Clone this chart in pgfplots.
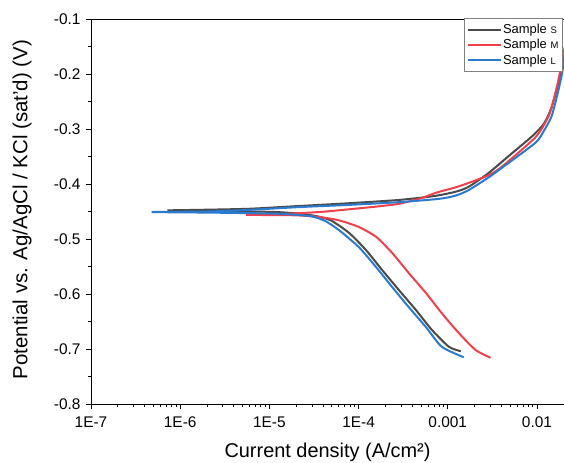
\documentclass[border=0pt]{standalone}
\usepackage{pgfplots}
\pgfplotsset{compat=1.18}
\usepackage{fontspec}
\setmainfont{Liberation Sans}
\definecolor{cS}{HTML}{4A4A4A}
\definecolor{cM}{HTML}{F0404C}
\definecolor{cL}{HTML}{2A7BCF}
\begin{document}
\begin{tikzpicture}
\begin{axis}[
  scale only axis, width=473bp, height=385bp,
  xmode=log, xmin=1e-7, xmax=0.0201, ymin=-0.8, ymax=-0.1,
  xtick={1e-7,1e-6,1e-5,1e-4,1e-3,1e-2},
  xticklabels={1E-7,1E-6,1E-5,1E-4,0.001,0.01},
  ytick={-0.8,-0.7,-0.6,-0.5,-0.4,-0.3,-0.2,-0.1},
  yticklabels={-0.8,-0.7,-0.6,-0.5,-0.4,-0.3,-0.2,-0.1},
  minor y tick num=1,
  xtick pos=bottom, ytick pos=left, tick align=outside,
  major tick length=5bp, minor tick length=3bp,
  tick style={black, line width=0.8bp},
  axis line style={line width=0.8bp},
  ticklabel style={font=\fontsize{15.5}{17}\selectfont},
  xticklabel style={yshift=-4bp},
  yticklabel style={xshift=-2bp},
  xlabel style={font=\fontsize{20}{22}\selectfont, at={(axis description cs:0.5,-0.1247)}, anchor=center},
  ylabel style={font=\fontsize{20.5}{22}\selectfont, at={(axis description cs:-0.1459,0.505)}, anchor=center},
  xlabel={Current density (A/cm²)},
  ylabel={Potential vs. Ag/AgCl / KCl (sat'd) (V)},
  legend style={at={(axis description cs:0.788,1.003)}, anchor=north west, draw=gray, line width=0.6bp,
    font=\fontsize{13}{15}\selectfont, row sep=1.5bp, inner xsep=2.5bp, inner ysep=4.5bp, nodes={inner sep=1.5bp}},
  legend cell align=left,
  legend image code/.code={\draw[#1, line width=2bp] (0bp,0bp) -- (33bp,0bp);},
  every axis plot/.append style={line width=2bp, smooth, tension=0.4},
]
\addplot[cS] coordinates {
(1.40e-3,-0.704) (1.03e-3,-0.696) (6.62e-4,-0.665) (4.39e-4,-0.629)
(2.84e-4,-0.593) (1.83e-4,-0.556) (1.21e-4,-0.520) (7.83e-5,-0.489)
(5.0e-5,-0.467) (3.5e-5,-0.459) (2.2e-5,-0.454) (1.2e-5,-0.451) (6.0e-6,-0.450)
(1.65e-6,-0.449) (7.2e-7,-0.448) (1.65e-6,-0.447) (6.0e-6,-0.445)
(2.16e-5,-0.440) (7.8e-5,-0.435) (2.84e-4,-0.429) (7.0e-4,-0.422)
(1.23e-3,-0.414) (1.72e-3,-0.405) (2.87e-3,-0.380) (5.0e-3,-0.347)
(9.0e-3,-0.312) (1.2e-2,-0.290) (1.45e-2,-0.262) (1.7e-2,-0.222)
(1.95e-2,-0.180) (2.2e-2,-0.140)
};
\addlegendentry{Sample {\fontsize{9.5}{9.5}\selectfont S}}
\addplot[cM] coordinates {
(3.02e-3,-0.716) (2.06e-3,-0.702) (1.33e-3,-0.671) (8.57e-4,-0.635)
(5.68e-4,-0.598) (3.66e-4,-0.562) (2.37e-4,-0.525) (1.57e-4,-0.496)
(1.0e-4,-0.478) (6.0e-5,-0.466) (3.62e-5,-0.460) (2.0e-5,-0.457) (1.0e-5,-0.4565) (5.5e-6,-0.456)
(1.2e-5,-0.455) (3.62e-5,-0.451) (7.8e-5,-0.446) (1.6e-4,-0.441)
(2.84e-4,-0.436) (5.0e-4,-0.426) (7.35e-4,-0.416) (1.23e-3,-0.406)
(1.72e-3,-0.398) (2.87e-3,-0.384) (4.01e-3,-0.369) (9.62e-3,-0.315)
(1.34e-2,-0.278) (1.55e-2,-0.245) (1.74e-2,-0.211) (2.0e-2,-0.160) (2.2e-2,-0.125)
};
\addlegendentry{Sample {\fontsize{9.5}{9.5}\selectfont M}}
\addplot[cL] coordinates {
(1.51e-3,-0.715) (8.57e-4,-0.696) (5.68e-4,-0.660) (3.66e-4,-0.624)
(2.37e-4,-0.587) (1.57e-4,-0.551) (1.01e-4,-0.515) (6.05e-5,-0.484)
(4.2e-5,-0.467) (3.0e-5,-0.459) (2.0e-5,-0.456) (1.2e-5,-0.454) (6.0e-6,-0.453) (2.0e-6,-0.452)
(4.8e-7,-0.451) (2.0e-6,-0.450) (6.0e-6,-0.447) (2.16e-5,-0.442)
(7.8e-5,-0.438) (2.84e-4,-0.433) (8.0e-4,-0.427) (1.23e-3,-0.421)
(1.72e-3,-0.411) (2.87e-3,-0.388) (4.01e-3,-0.371) (9.62e-3,-0.325)
(1.2e-2,-0.303) (1.45e-2,-0.278) (1.65e-2,-0.245) (1.88e-2,-0.205) (2.1e-2,-0.160) (2.3e-2,-0.120)
};
\addlegendentry{Sample {\fontsize{9.5}{9.5}\selectfont L}}
\end{axis}
\path (current axis.south west) ++(-91bp,-59bp) coordinate (bl);
\path (current axis.north east) ++(0bp,19bp) coordinate (tr);
\pgfresetboundingbox
\path[use as bounding box] (bl) rectangle (tr);
\end{tikzpicture}
\end{document}
